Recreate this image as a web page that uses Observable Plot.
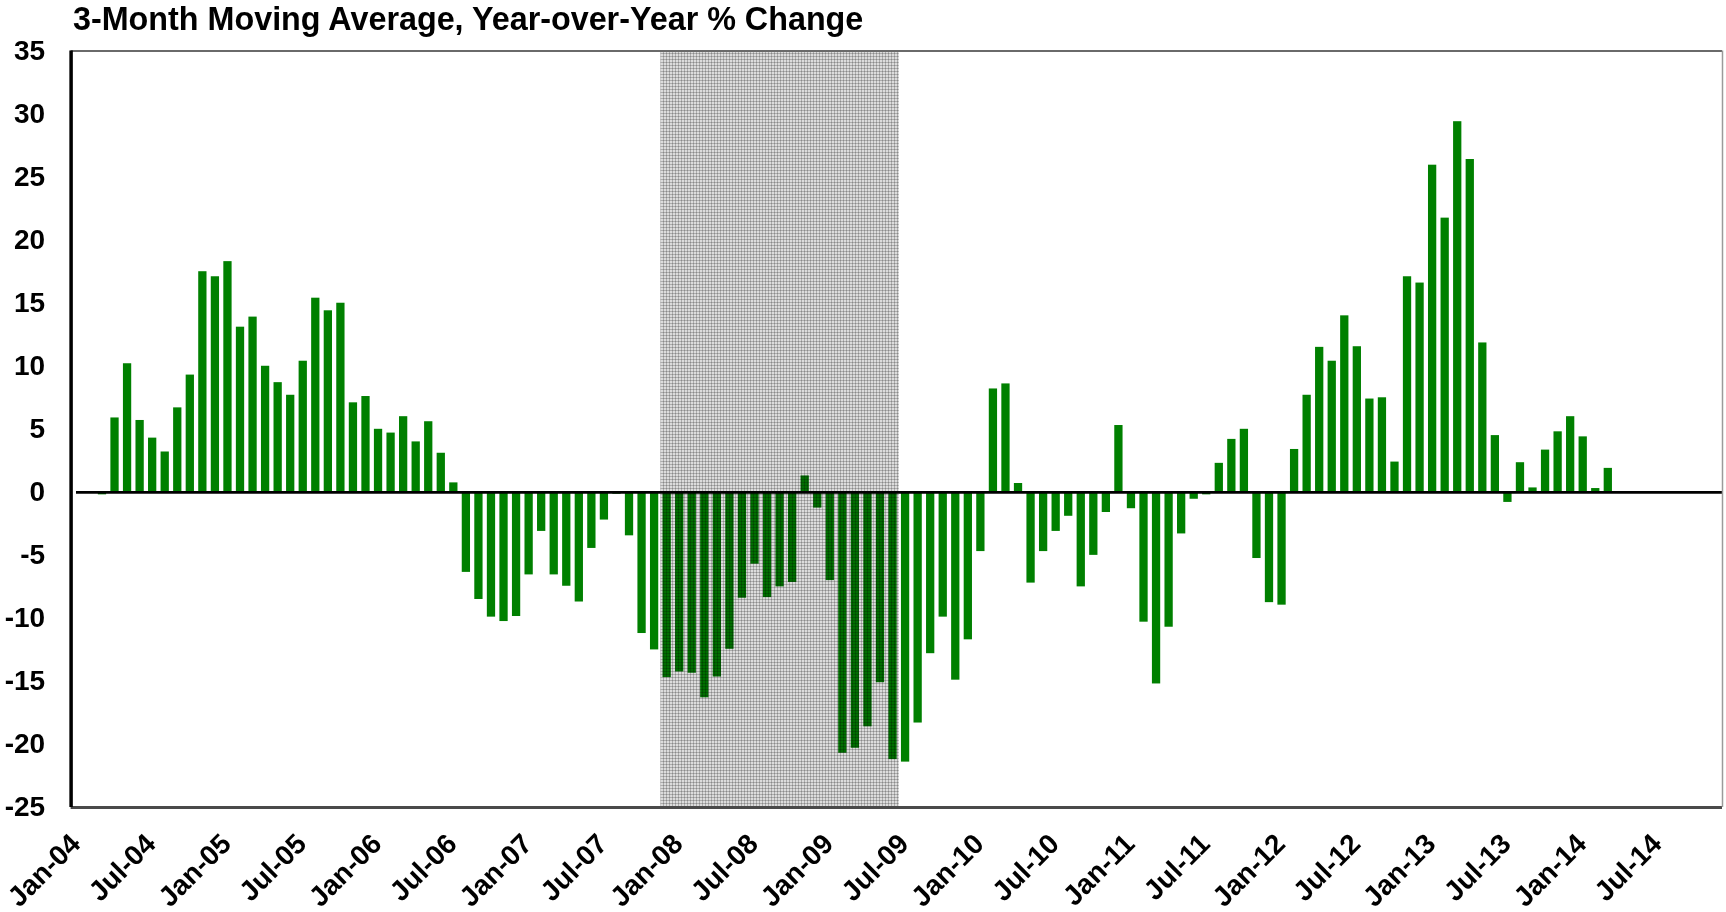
<!DOCTYPE html>
<html>
<head>
<meta charset="utf-8">
<script src="https://cdn.jsdelivr.net/npm/d3@7"></script>
<script src="https://cdn.jsdelivr.net/npm/@observablehq/plot@0.6"></script>
<style>
  html, body { margin: 0; padding: 0; background: white; }
  body { position: relative; width: 1726px; height: 912px; overflow: hidden; font-family: "Liberation Sans", Arial, sans-serif; }
  #title { position: absolute; left: 73px; top: 3px; font-size: 32.3px; font-weight: bold; line-height: 1; color: #000; white-space: nowrap; }
  #chart { position: absolute; left: 0; top: 44px; }
</style>
</head>
<body>
<div id="title">3-Month Moving Average, Year-over-Year % Change</div>
<div id="chart"></div>
<script>
// ---- Data (3-month moving average, YoY % change), monthly ----
// 2004 series starts in March
const y2004 = [-0.2, 5.9, 10.2, 5.7, 4.3, 3.2, 6.7, 9.3, 17.5, 17.1];
const y2005 = [18.3, 13.1, 13.9, 10.0, 8.7, 7.7, 10.4, 15.4, 14.4, 15.0, 7.1, 7.6];
const y2006 = [5.0, 4.7, 6.0, 4.0, 5.6, 3.1, 0.75, -6.35, -8.5, -9.9, -10.25, -9.85];
const y2007 = [-6.55, -3.1, -6.55, -7.45, -8.7, -4.45, -2.2, -0.15, -3.45, -11.2, -12.5, -14.7];
const y2008 = [-14.25, -14.35, -16.3, -14.65, -12.45, -8.4, -5.7, -8.35, -7.5, -7.15, 1.3, -1.25];
const y2009 = [-7.0, -20.7, -20.3, -18.6, -15.1, -21.2, -21.4, -18.3, -12.8, -9.9, -14.9, -11.7];
const y2010 = [-4.7, 8.2, 8.6, 0.7, -7.2, -4.7, -3.1, -1.9, -7.5, -5.0, -1.6, 5.3];
const y2011 = [-1.3, -10.3, -15.2, -10.7, -3.3, -0.55, -0.2, 2.3, 4.2, 5.0, -5.25, -8.75];
const y2012 = [-8.95, 3.4, 7.7, 11.5, 10.4, 14.0, 11.55, 7.4, 7.5, 2.4, 17.1, 16.6];
const y2013 = [25.95, 21.75, 29.4, 26.4, 11.85, 4.5, -0.8, 2.35, 0.35, 3.35, 4.8, 6.0];
const y2014 = [4.4, 0.3, 1.9];

const seriesByYear = [
  {year: 2004, firstMonth: 2, values: y2004},
  {year: 2005, firstMonth: 0, values: y2005},
  {year: 2006, firstMonth: 0, values: y2006},
  {year: 2007, firstMonth: 0, values: y2007},
  {year: 2008, firstMonth: 0, values: y2008},
  {year: 2009, firstMonth: 0, values: y2009},
  {year: 2010, firstMonth: 0, values: y2010},
  {year: 2011, firstMonth: 0, values: y2011},
  {year: 2012, firstMonth: 0, values: y2012},
  {year: 2013, firstMonth: 0, values: y2013},
  {year: 2014, firstMonth: 0, values: y2014}
];

// x-axis tick labels (every 6 months from Jan-04)
const tickLabels = ["Jan-04","Jul-04","Jan-05","Jul-05","Jan-06","Jul-06","Jan-07","Jul-07","Jan-08","Jul-08","Jan-09","Jul-09","Jan-10","Jul-10","Jan-11","Jul-11","Jan-12","Jul-12","Jan-13","Jul-13","Jan-14","Jul-14"];
const yTicks = [-25, -20, -15, -10, -5, 0, 5, 10, 15, 20, 25, 30, 35];
// recession shading: Dec-07 through Jun-09 (month offsets from Jan-04)
const recessionStart = 47; // Dec-07
const recessionEnd = 66;   // Jul-09 (exclusive)

// ---- Build table (month index counted from Jan-2004) ----
const bars = [];
for (const s of seriesByYear) {
  s.values.forEach((v, j) => {
    bars.push({m: (s.year - 2004) * 12 + s.firstMonth + j, v});
  });
}
const ticks = tickLabels.map((label, i) => ({m: i * 6, label}));
const xMax = 131.6;

const chart = Plot.plot({
  width: 1726,
  height: 868,
  marginTop: 6.6,
  marginBottom: 105,
  marginLeft: 70.6,
  marginRight: 4,
  style: {fontFamily: "'Liberation Sans', Arial, sans-serif", color: "#000", background: "white", overflow: "visible"},
  x: {type: "linear", domain: [0, xMax], axis: null},
  y: {domain: [-25, 35]},
  marks: [
    Plot.rectY(bars, {x1: d => d.m + 0.17, x2: d => d.m + 0.83, y: "v", fill: "#008000"}),
    Plot.rect([{a: recessionStart, b: recessionEnd}], {x1: "a", x2: "b", fill: "url(#recPattern)", mixBlendMode: "multiply"}),
    Plot.ruleY([0], {x1: 0.43, x2: xMax, stroke: "#000", strokeWidth: 2.6}),
    Plot.ruleY([35], {x1: 0, x2: xMax, stroke: "#6a6a6a", strokeWidth: 2}),
    Plot.ruleY([-25], {x1: 0, x2: xMax, stroke: "#4a4a4a", strokeWidth: 3}),
    Plot.ruleX([xMax], {y1: -25, y2: 35, stroke: "#9a9a9a", strokeWidth: 1.5}),
    Plot.ruleX([0], {y1: -25, y2: 35, stroke: "#000", strokeWidth: 3.5}),
    Plot.axisY({ticks: yTicks, tickSize: 0, tickPadding: 26, fontSize: 28, fontWeight: "bold", label: null, tickFormat: d => String(d)}),
    Plot.text(ticks, {x: "m", text: "label", frameAnchor: "bottom", rotate: -45, textAnchor: "end", lineAnchor: "bottom", dx: 11, dy: 38, fontSize: 28, fontWeight: "bold", fill: "#000"})
  ]
});

// pattern definition for the recession shading
const defs = d3.select(chart).insert("defs", ":first-child");
const pat = defs.append("pattern").attr("id", "recPattern").attr("patternUnits", "userSpaceOnUse").attr("width", 3).attr("height", 3);
pat.append("rect").attr("width", 3).attr("height", 3).attr("fill", "#dcdcdc");
pat.append("rect").attr("x", 0).attr("y", 0).attr("width", 1).attr("height", 3).attr("fill", "#adadad");
pat.append("rect").attr("x", 0).attr("y", 0).attr("width", 3).attr("height", 1).attr("fill", "#adadad");
pat.append("rect").attr("x", 0).attr("y", 0).attr("width", 1).attr("height", 1).attr("fill", "#8a8a8a");

document.getElementById("chart").appendChild(chart);
</script>
</body>
</html>
